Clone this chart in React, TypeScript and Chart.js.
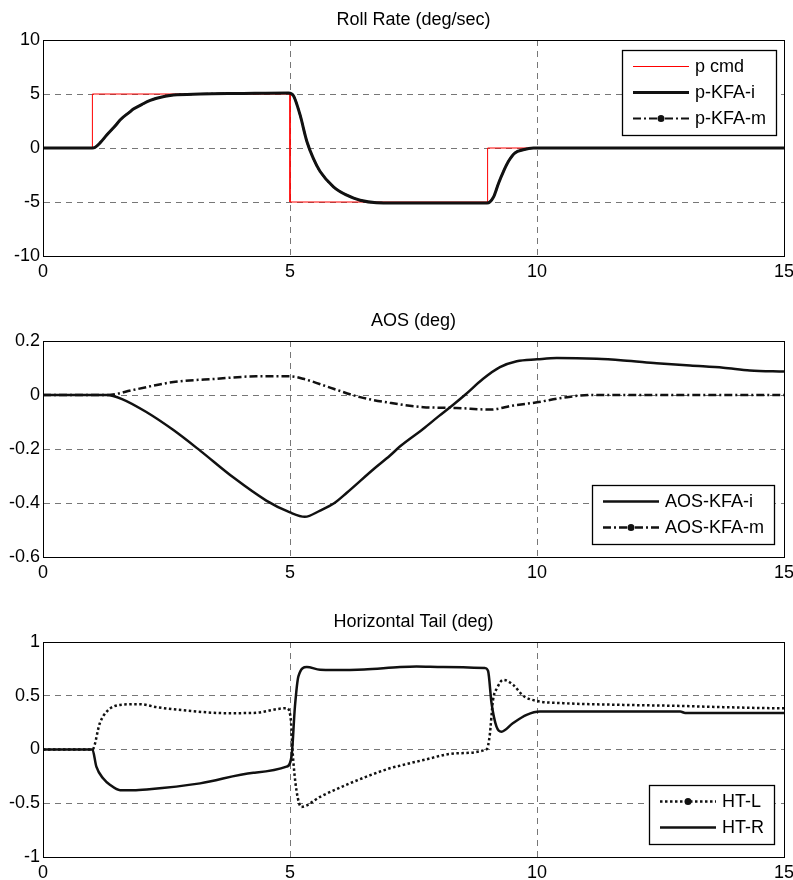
import React, { useEffect, useRef } from "react";
import { Chart, registerables } from "chart.js";

Chart.register(...registerables);

// ---------- tick labels ----------
const X_TICKS = [0, 5, 10, 15];
const Y1_TICKS = [-10, -5, 0, 5, 10];
const Y2_TICKS = [-0.6, -0.4, -0.2, 0, 0.2];
const Y3_TICKS = [-1, -0.5, 0, 0.5, 1];

const TITLES = ["Roll Rate (deg/sec)", "AOS (deg)", "Horizontal Tail (deg)"];

// ---------- Roll rate ----------
const P_CMD_T = [0, 1, 1, 5, 5, 9, 9, 15];
const P_CMD = [0, 0, 5, 5, -5, -5, 0, 0];

const P_KFA_T = [0, 1.0, 1.05, 1.15, 1.29, 1.49, 1.56, 1.76, 1.83, 2.03, 2.17, 2.3, 2.64, 3.18, 4.0, 4.97, 5.07, 5.2, 5.34, 5.47, 5.61, 5.88, 6.15, 6.42, 6.75, 7.5, 8.99, 9.12, 9.22, 9.32, 9.42, 9.55, 9.72, 9.93, 10.5, 15];
const P_KFA_I = [0, 0, 0.05, 0.45, 1.2, 2.2, 2.6, 3.35, 3.6, 4.1, 4.4, 4.6, 4.9, 5.0, 5.05, 5.1, 4.84, 3.13, 0.63, -0.94, -2.18, -3.59, -4.37, -4.84, -5.06, -5.1, -5.1, -4.53, -3.28, -2.18, -1.25, -0.47, -0.16, 0, 0, 0];
const P_KFA_M = [0, 0, 0.05, 0.45, 1.2, 2.2, 2.6, 3.35, 3.6, 4.1, 4.4, 4.6, 4.9, 5.0, 5.05, 5.1, 4.84, 3.13, 0.63, -0.94, -2.18, -3.59, -4.37, -4.84, -5.06, -5.1, -5.1, -4.53, -3.28, -2.18, -1.25, -0.47, -0.16, 0, 0, 0];

// ---------- AOS ----------
const AOS_I_T = [0, 1.29, 1.6, 2.1, 2.64, 3.18, 3.85, 4.52, 5.0, 5.3, 5.61, 5.9, 6.15, 6.69, 7.02, 7.23, 7.7, 8.0, 8.31, 8.54, 8.91, 9.25, 9.59, 10.0, 10.4, 11.21, 11.75, 12.42, 13.1, 13.77, 14.31, 15];
const AOS_I = [0, 0, -0.015, -0.064, -0.13, -0.206, -0.305, -0.391, -0.435, -0.451, -0.428, -0.4, -0.362, -0.275, -0.225, -0.19, -0.125, -0.08, -0.035, 0, 0.06, 0.103, 0.125, 0.132, 0.137, 0.134, 0.128, 0.118, 0.109, 0.101, 0.091, 0.087];

const AOS_M_T = [0, 1.3, 1.83, 2.64, 3.51, 4.32, 5.0, 5.27, 5.88, 6.42, 7.02, 7.7, 8.37, 9.05, 9.52, 10.0, 10.53, 11.07, 15];
const AOS_M = [0, 0, 0.019, 0.048, 0.06, 0.069, 0.069, 0.06, 0.023, -0.008, -0.029, -0.045, -0.048, -0.054, -0.039, -0.027, -0.01, 0, 0];

// ---------- Horizontal tail ----------
const HT_L_T = [0, 1.0, 1.15, 1.29, 1.56, 1.96, 2.3, 2.91, 3.71, 4.26, 4.93, 5.01, 5.06, 5.13, 5.23, 5.61, 6.21, 7.02, 7.23, 7.7, 8.37, 8.98, 9.04, 9.11, 9.19, 9.32, 9.52, 9.72, 9.99, 10.53, 11.75, 12.83, 13.77, 14.95, 15];
const HT_L = [0, 0, 0.244, 0.353, 0.415, 0.422, 0.394, 0.362, 0.338, 0.34, 0.384, 0.306, -0.067, -0.378, -0.534, -0.44, -0.315, -0.175, -0.15, -0.098, -0.035, 0.002, 0.12, 0.46, 0.57, 0.648, 0.6, 0.5, 0.452, 0.431, 0.415, 0.406, 0.394, 0.384, 0.384];

const HT_R_T = [0, 1.0, 1.08, 1.22, 1.36, 1.56, 1.83, 2.1, 3.18, 4.26, 4.93, 5.03, 5.1, 5.17, 5.34, 5.61, 5.88, 6.5, 7.23, 7.56, 8.1, 8.95, 9.01, 9.08, 9.18, 9.28, 9.51, 9.79, 10.06, 12.9, 13.0, 15];
const HT_R = [0, 0, -0.16, -0.27, -0.33, -0.378, -0.378, -0.371, -0.315, -0.216, -0.16, -0.067, 0.4, 0.68, 0.767, 0.742, 0.74, 0.745, 0.767, 0.772, 0.767, 0.757, 0.73, 0.43, 0.213, 0.166, 0.244, 0.322, 0.353, 0.353, 0.34, 0.34];

const FONT = "'Liberation Sans', Arial, Helvetica, sans-serif";
const DASH_DOT = [8, 3, 2, 3];
const DOTTED = [2.5, 2.5];

type Series = {
  label: string; t: number[]; v: number[]; color: string; width: number; dash: number[]; order: number; marker?: boolean; sharp?: boolean;
};

type Spec = {
  title: string; yTicks: number[]; yMin: number; yMax: number;
  canvasTop: number; canvasH: number; areaTop: number; xAxisH: number;
  series: Series[]; legendOrder: number[];
  legendAnchor: "top" | "bottom"; legendOffX: number; legendOffY: number;
};

const SPECS: Spec[] = [
  {
    title: TITLES[0], yTicks: Y1_TICKS, yMin: -10, yMax: 10,
    canvasTop: 0, canvasH: 293, areaTop: 40, xAxisH: 37,
    series: [
      { label: "p cmd", t: P_CMD_T, v: P_CMD, color: "#ff0000", width: 1, dash: [], order: 3, sharp: true },
      { label: "p-KFA-i", t: P_KFA_T, v: P_KFA_I, color: "#111111", width: 3, dash: [], order: 1 },
      { label: "p-KFA-m", t: P_KFA_T, v: P_KFA_M, color: "#111111", width: 2, dash: DASH_DOT, order: 2, marker: true },
    ],
    legendOrder: [0, 1, 2], legendAnchor: "top", legendOffX: 8, legendOffY: 10,
  },
  {
    title: TITLES[1], yTicks: Y2_TICKS, yMin: -0.6, yMax: 0.2,
    canvasTop: 293, canvasH: 297, areaTop: 48, xAxisH: 33,
    series: [
      { label: "AOS-KFA-i", t: AOS_I_T, v: AOS_I, color: "#111111", width: 2.5, dash: [], order: 1 },
      { label: "AOS-KFA-m", t: AOS_M_T, v: AOS_M, color: "#111111", width: 2.5, dash: DASH_DOT, order: 2, marker: true },
    ],
    legendOrder: [0, 1], legendAnchor: "bottom", legendOffX: 10, legendOffY: 13,
  },
  {
    title: TITLES[2], yTicks: Y3_TICKS, yMin: -1, yMax: 1,
    canvasTop: 590, canvasH: 290, areaTop: 52, xAxisH: 23,
    series: [
      { label: "HT-L", t: HT_L_T, v: HT_L, color: "#111111", width: 2.5, dash: DOTTED, order: 2, marker: true },
      { label: "HT-R", t: HT_R_T, v: HT_R, color: "#111111", width: 2.5, dash: [], order: 1 },
    ],
    legendOrder: [0, 1], legendAnchor: "bottom", legendOffX: 10, legendOffY: 13,
  },
];

const panelPlugin = {
  id: "panel",
  afterDatasetsDraw(chart: any, _args: any, opts: any) {
    const spec: Spec = opts.spec;
    const { ctx, chartArea: a } = chart;
    ctx.save();
    // axes box
    ctx.strokeStyle = "#000";
    ctx.lineWidth = 1;
    ctx.setLineDash([]);
    ctx.strokeRect(Math.round(a.left) + 0.5, Math.round(a.top) + 0.5, Math.round(a.right - a.left), Math.round(a.bottom - a.top));
    // title
    ctx.fillStyle = "#000";
    ctx.font = `18px ${FONT}`;
    ctx.textAlign = "center";
    ctx.textBaseline = "alphabetic";
    ctx.fillText(spec.title, (a.left + a.right) / 2, a.top - 15);
    // legend
    const rows = spec.legendOrder.map((i) => spec.series[i]);
    ctx.textAlign = "left";
    ctx.textBaseline = "middle";
    let maxW = 0;
    rows.forEach((s) => { maxW = Math.max(maxW, ctx.measureText(s.label).width); });
    const w = Math.round(73 + maxW + 10);
    const h = Math.round(26 * rows.length + 6.5);
    const right = Math.round(a.right) - spec.legendOffX;
    const left = right - w;
    const top = spec.legendAnchor === "top" ? Math.round(a.top) + spec.legendOffY : Math.round(a.bottom) - spec.legendOffY - h;
    ctx.fillStyle = "#fff";
    ctx.fillRect(left, top, w, h);
    ctx.strokeStyle = "#000";
    ctx.lineWidth = 1.3;
    ctx.strokeRect(left + 0.5, top + 0.5, w, h);
    rows.forEach((s, k) => {
      const y = top + 16.5 + k * 26;
      ctx.save();
      ctx.strokeStyle = s.color;
      ctx.lineWidth = s.width;
      ctx.setLineDash(s.dash);
      ctx.beginPath();
      ctx.moveTo(left + 11, y);
      ctx.lineTo(left + 67, y);
      ctx.stroke();
      ctx.restore();
      if (s.marker) {
        ctx.fillStyle = "#111";
        ctx.beginPath();
        ctx.arc(left + 39, y, 3.5, 0, Math.PI * 2);
        ctx.fill();
      }
      ctx.fillStyle = "#000";
      ctx.fillText(s.label, left + 73, y + 1);
    });
    ctx.restore();
  },
};

function makeChart(canvas: HTMLCanvasElement, spec: Spec) {
  return new Chart(canvas, {
    type: "line",
    data: {
      datasets: spec.series.map((s) => ({
        label: s.label,
        data: s.t.map((t, i) => ({ x: t, y: s.v[i] })),
        borderColor: s.color,
        backgroundColor: s.color,
        borderWidth: s.width,
        borderDash: s.dash,
        borderCapStyle: "butt",
        borderJoinStyle: "round",
        pointRadius: 0,
        fill: false,
        tension: s.sharp ? 0 : 0.4,
        cubicInterpolationMode: s.sharp ? "default" : "monotone",
        order: s.order,
      })),
    },
    options: {
      animation: false,
      responsive: false,
      maintainAspectRatio: false,
      events: [],
      layout: { padding: { top: spec.areaTop, right: 9, left: 0, bottom: 0 } },
      plugins: {
        legend: { display: false },
        tooltip: { enabled: false },
        title: { display: false },
        panel: { spec },
      } as any,
      scales: {
        x: {
          type: "linear",
          min: 0,
          max: 15,
          afterBuildTicks: (axis: any) => { axis.ticks = X_TICKS.map((v) => ({ value: v })); },
          afterFit: (axis: any) => { axis.height = spec.xAxisH; axis.paddingLeft = 0; axis.paddingRight = 0; },
          grid: { color: "#777", lineWidth: 1, drawTicks: false },
          border: { display: true, color: "#000", width: 1, dash: [6, 5] },
          ticks: { padding: 5, color: "#000", font: { size: 18, family: FONT }, maxRotation: 0, autoSkip: false, callback: (v: any) => String(v) },
        },
        y: {
          type: "linear",
          min: spec.yMin,
          max: spec.yMax,
          afterBuildTicks: (axis: any) => { axis.ticks = spec.yTicks.map((v) => ({ value: v })); },
          afterFit: (axis: any) => { axis.width = 43; axis.paddingTop = 0; axis.paddingBottom = 0; },
          grid: { color: "#777", lineWidth: 1, drawTicks: false },
          border: { display: true, color: "#000", width: 1, dash: [6, 5] },
          ticks: { padding: 3, color: "#000", font: { size: 18, family: FONT }, autoSkip: false, callback: (v: any) => String(v) },
        },
      },
    } as any,
    plugins: [panelPlugin],
  });
}

function Panel({ spec }: { spec: Spec }) {
  const ref = useRef<HTMLCanvasElement | null>(null);
  useEffect(() => {
    if (!ref.current) return;
    const c = makeChart(ref.current, spec);
    return () => c.destroy();
  }, [spec]);
  return (
    <canvas
      ref={ref}
      width={793}
      height={spec.canvasH}
      style={{ position: "absolute", left: 0, top: spec.canvasTop, width: 793, height: spec.canvasH, display: "block" }}
    />
  );
}

export default function App() {
  return (
    <div style={{ position: "absolute", left: 0, top: 0, width: 793, height: 880, background: "#fff", overflow: "hidden" }}>
      {SPECS.map((s, i) => (
        <Panel key={i} spec={s} />
      ))}
    </div>
  );
}
